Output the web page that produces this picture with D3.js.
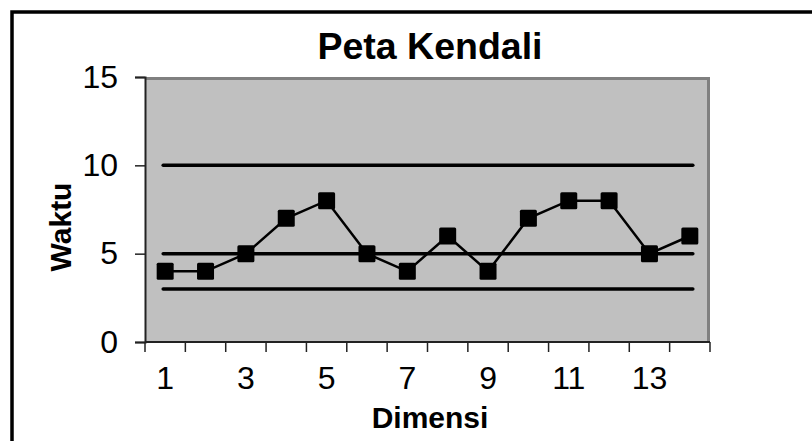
<!DOCTYPE html>
<html><head><meta charset="utf-8">
<script src="https://cdn.jsdelivr.net/npm/d3@7"></script>
<style>body{margin:0;background:#fff}svg{display:block}</style>
</head><body>
<script>
const categories = [1,2,3,4,5,6,7,8,9,10,11,12,13,14];
const waktu = [4,4,5,7,8,5,4,6,4,7,8,8,5,6];
const ucl = 10, cl = 5, lcl = 3;
const yTicks = [0,5,10,15];
const xTickLabels = [1,3,5,7,9,11,13];

const W = 812, H = 441;
const svg = d3.select("body").append("svg").attr("width", W).attr("height", H);
const font = "Arial, 'Liberation Sans', sans-serif";

// outer frame
svg.append("path").attr("d", `M12,${H+5} L12,12 L${W+5},12`).attr("fill","none").attr("stroke","#000").attr("stroke-width",3.5);

const m = {l:145, r:710, t:77, b:342};
const x = d3.scaleBand().domain(categories).range([m.l, m.r]).padding(0);
const y = d3.scaleLinear().domain([0,15]).range([m.b, m.t]);

// plot area
svg.append("rect").attr("x",m.l).attr("y",m.t).attr("width",m.r-m.l).attr("height",m.b-m.t).attr("fill","#c0c0c0");
svg.append("path").attr("d",`M${m.l},${m.t+1.5} L${m.r-1.5},${m.t+1.5} L${m.r-1.5},${m.b}`).attr("fill","none").attr("stroke","#808080").attr("stroke-width",3);

// y axis
const yAxis = svg.append("g").attr("transform",`translate(${m.l},0)`)
  .call(d3.axisLeft(y).tickValues(yTicks).tickSize(10).tickPadding(17));
yAxis.select(".domain").attr("stroke","#222").attr("stroke-width",2);
yAxis.selectAll(".tick line").attr("stroke","#222").attr("stroke-width",1.5);
yAxis.selectAll("text").attr("font-family",font).attr("font-size",32).attr("fill","#000");

// x axis
const bw = x.bandwidth();
const xAxisG = svg.append("g").attr("transform",`translate(0,${m.b})`);
xAxisG.append("line").attr("x1",m.l).attr("x2",m.r).attr("y1",0).attr("y2",0).attr("stroke","#222").attr("stroke-width",2);
const bounds = categories.map(c => x(c)).concat([x(categories[categories.length-1]) + bw]);
xAxisG.selectAll("line.tk").data(bounds).join("line").attr("class","tk")
  .attr("x1",d=>d).attr("x2",d=>d).attr("y1",0).attr("y2",10).attr("stroke","#222").attr("stroke-width",1.5);
xAxisG.selectAll("text").data(xTickLabels).join("text")
  .attr("x",d=>x(d)+bw/2).attr("y",47).attr("text-anchor","middle")
  .attr("font-family",font).attr("font-size",32).attr("fill","#000").text(d=>d);

// control lines
const x0 = x(categories[0])+bw/2 - 2, x1 = x(categories[categories.length-1])+bw/2 + 3;
[ucl, cl, lcl].forEach(v => {
  svg.append("line").attr("x1",x0).attr("x2",x1).attr("y1",y(v)).attr("y2",y(v))
    .attr("stroke","#000").attr("stroke-width",3.5).attr("stroke-linecap","round");
});

// data line
const line = d3.line().x((d,i)=>x(categories[i])+bw/2).y(d=>y(d));
svg.append("path").datum(waktu).attr("d",line).attr("fill","none").attr("stroke","#000").attr("stroke-width",2.5);
svg.selectAll("rect.pt").data(waktu).join("rect").attr("class","pt")
  .attr("x",(d,i)=>x(categories[i])+bw/2-8.5).attr("y",d=>y(d)-8.5).attr("width",17).attr("height",17)
  .attr("rx",1.5).attr("fill","#000");

// titles
svg.append("text").attr("x",430).attr("y",59).attr("text-anchor","middle").attr("font-family",font)
  .attr("font-weight","bold").attr("font-size",37.5).attr("fill","#000").text("Peta Kendali");
svg.append("text").attr("x",430).attr("y",428).attr("text-anchor","middle").attr("font-family",font)
  .attr("font-weight","bold").attr("font-size",30).attr("fill","#000").text("Dimensi");
svg.append("text").attr("transform","translate(71,227) rotate(-90)").attr("text-anchor","middle").attr("font-family",font)
  .attr("font-weight","bold").attr("font-size",30).attr("fill","#000").text("Waktu");
</script>
</body></html>
